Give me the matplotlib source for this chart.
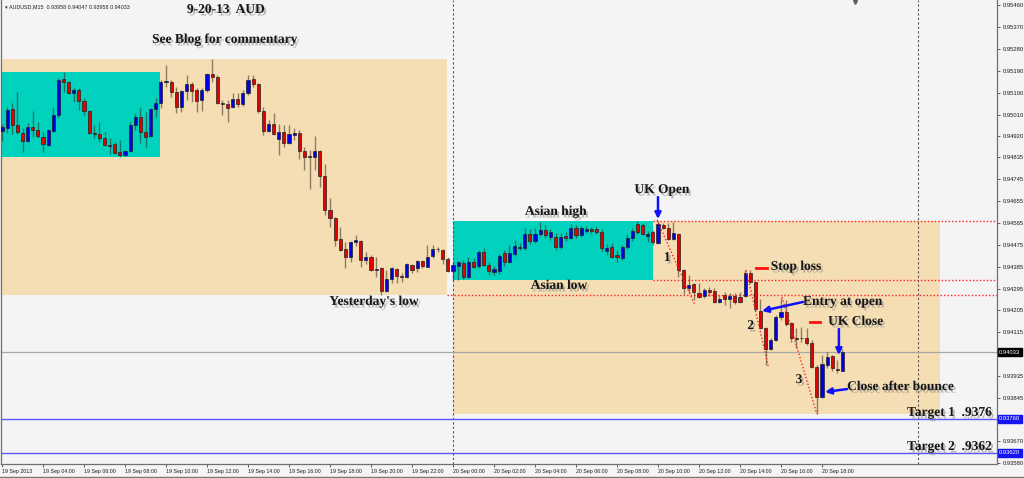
import numpy as np
import matplotlib
matplotlib.use('Agg')
import matplotlib.pyplot as plt
import matplotlib.patheffects as pe
import matplotlib.transforms as mtransforms
from matplotlib.patches import Rectangle

# AUDUSD M15, 19 Sep 2013 02:00 -> 20 Sep 2013 19:00 (one value per bar)
opens = [
    .94943, .94955, .95033, .94967, .94935, .94902, .94959, .94947, .94918, .94885,
    .94943, .95008, .95156, .95144, .95099, .95111, .95066, .95025, .94935, .94931,
    .94914, .94885, .94890, .94857, .94844, .94861, .94967, .95000, .94939, .94922,
    .95033, .95058, .95144, .95144, .95103, .95041, .95107, .95136, .95111, .95070,
    .95111, .95177, .95164, .95058, .95054, .95041, .95074, .95054, .95099, .95156,
    .95136, .95025, .94943, .94972, .94910, .94939, .94894, .94926, .94935, .94861,
    .94840, .94836, .94861, .94757, .94618, .94585, .94499, .94458, .94425, .94487,
    .94491, .94412, .94425, .94371, .94379, .94285, .94334, .94375, .94346, .94342,
    .94392, .94379, .94408, .94383, .94429, .94458, .94454, .94416, .94367, .94387,
    .94400, .94342, .94404, .94387, .94446, .94392, .94363, .94367, .94441, .94404,
    .94437, .94466, .94462, .94520, .94491, .94520, .94536, .94507, .94507, .94466,
    .94511, .94503, .94544, .94515, .94532, .94540, .94540, .94528, .94450, .94466,
    .94433, .94421, .94466, .94503, .94561, .94556, .94511, .94528, .94483, .94556,
    .94544, .94499, .94520, .94371, .94297, .94313, .94276, .94264, .94289, .94285,
    .94240, .94268, .94252, .94264, .94260, .94264, .94359, .94322, .94203, .94133,
    .94047, .94084, .94178, .94199, .94154, .94092, .94092, .94092, .94072, .93972,
    .93849, .93980, .94017, .93964, .93958,
]
highs = [
    .94972, .95041, .95058, .95103, .94955, .94976, .95025, .94980, .94939, .94951,
    .95041, .95160, .95185, .95148, .95119, .95119, .95078, .95029, .94967, .94980,
    .94939, .94914, .94898, .94906, .94865, .94980, .95017, .95041, .95021, .95037,
    .95078, .95152, .95213, .95152, .95123, .95111, .95172, .95144, .95119, .95119,
    .95181, .95238, .95172, .95070, .95070, .95099, .95099, .95111, .95172, .95172,
    .95140, .95041, .94988, .95017, .94972, .94967, .94967, .94955, .94947, .94877,
    .94865, .94922, .94865, .94807, .94667, .94589, .94548, .94487, .94491, .94515,
    .94495, .94446, .94433, .94425, .94383, .94371, .94383, .94379, .94359, .94400,
    .94396, .94412, .94412, .94474, .94474, .94466, .94458, .94425, .94404, .94408,
    .94412, .94425, .94421, .94454, .94462, .94404, .94387, .94437, .94454, .94474,
    .94495, .94483, .94544, .94540, .94544, .94569, .94556, .94540, .94524, .94524,
    .94528, .94561, .94556, .94552, .94552, .94548, .94552, .94540, .94478, .94483,
    .94454, .94474, .94520, .94544, .94573, .94565, .94532, .94536, .94573, .94565,
    .94565, .94569, .94524, .94375, .94350, .94318, .94318, .94297, .94301, .94297,
    .94268, .94281, .94276, .94276, .94281, .94371, .94371, .94326, .94252, .94137,
    .94092, .94186, .94256, .94248, .94158, .94133, .94137, .94133, .94084, .93980,
    .94022, .94034, .94022, .94001, .94047,
]
lows = [
    .94902, .94935, .94931, .94931, .94857, .94898, .94918, .94914, .94857, .94881,
    .94939, .94996, .95103, .95095, .95062, .95029, .95008, .94931, .94914, .94898,
    .94881, .94849, .94849, .94836, .94840, .94857, .94947, .94894, .94873, .94918,
    .95000, .95037, .95123, .95082, .95017, .95021, .95070, .95062, .95021, .95025,
    .95103, .95144, .95054, .95008, .94980, .95037, .95041, .95045, .95091, .95123,
    .95017, .94926, .94939, .94926, .94844, .94877, .94890, .94906, .94828, .94782,
    .94704, .94782, .94712, .94597, .94548, .94470, .94450, .94379, .94404, .94470,
    .94383, .94396, .94367, .94342, .94268, .94281, .94318, .94318, .94322, .94338,
    .94359, .94363, .94379, .94383, .94421, .94446, .94396, .94363, .94330, .94330,
    .94334, .94338, .94379, .94379, .94387, .94350, .94350, .94355, .94387, .94400,
    .94429, .94454, .94454, .94478, .94483, .94511, .94503, .94495, .94454, .94458,
    .94491, .94499, .94503, .94507, .94524, .94520, .94520, .94450, .94433, .94421,
    .94404, .94412, .94458, .94491, .94520, .94515, .94487, .94474, .94478, .94540,
    .94495, .94495, .94342, .94272, .94276, .94248, .94256, .94256, .94264, .94235,
    .94235, .94227, .94215, .94231, .94235, .94260, .94318, .94203, .94129, .93980,
    .94043, .94080, .94166, .94141, .94076, .94051, .94076, .94064, .93968, .93779,
    .93845, .93968, .93956, .93948, .93958,
]
closes = [
    .94959, .95029, .94967, .94939, .94902, .94959, .94947, .94922, .94890, .94947,
    .95008, .95152, .95144, .95099, .95111, .95066, .95025, .94935, .94931, .94914,
    .94885, .94881, .94853, .94844, .94861, .94967, .95000, .94939, .94918, .95033,
    .95058, .95144, .95148, .95103, .95041, .95107, .95136, .95107, .95066, .95111,
    .95177, .95164, .95058, .95054, .95037, .95074, .95054, .95099, .95152, .95136,
    .95025, .94943, .94972, .94931, .94939, .94894, .94931, .94935, .94861, .94836,
    .94836, .94861, .94757, .94618, .94585, .94495, .94454, .94425, .94487, .94495,
    .94412, .94425, .94371, .94375, .94285, .94334, .94379, .94346, .94342, .94396,
    .94371, .94408, .94387, .94425, .94458, .94456, .94416, .94367, .94392, .94404,
    .94342, .94404, .94383, .94446, .94392, .94367, .94375, .94429, .94404, .94441,
    .94470, .94462, .94520, .94491, .94520, .94536, .94515, .94528, .94466, .94507,
    .94503, .94544, .94515, .94544, .94540, .94532, .94528, .94462, .94462, .94425,
    .94425, .94466, .94503, .94532, .94528, .94520, .94520, .94487, .94561, .94544,
    .94499, .94524, .94371, .94297, .94309, .94281, .94260, .94289, .94281, .94240,
    .94252, .94252, .94264, .94240, .94240, .94359, .94322, .94211, .94133, .94047,
    .94084, .94178, .94199, .94150, .94092, .94088, .94090, .94072, .93972, .93849,
    .93985, .94013, .93968, .93960, .94033,
]

time_labels = ['19 Sep 2013', '19 Sep 04:00', '19 Sep 06:00', '19 Sep 08:00', '19 Sep 10:00',
               '19 Sep 12:00', '19 Sep 14:00', '19 Sep 16:00', '19 Sep 18:00', '19 Sep 20:00',
               '19 Sep 22:00', '20 Sep 00:00', '20 Sep 02:00', '20 Sep 04:00', '20 Sep 06:00',
               '20 Sep 08:00', '20 Sep 10:00', '20 Sep 12:00', '20 Sep 14:00', '20 Sep 16:00',
               '20 Sep 18:00']
price_labels = ['0.95460', '0.95370', '0.95280', '0.95190', '0.95100', '0.95010', '0.94920',
                '0.94835', '0.94745', '0.94655', '0.94565', '0.94475', '0.94385', '0.94295',
                '0.94205', '0.94115', '0.93935', '0.93845', '0.93670', '0.93580']
targets = [0.9376, 0.9362]
target_names = ['Target 1  .9376', 'Target 2  .9362']

# sessions (bar index ranges)
day1 = slice(0, 88)
asia1 = slice(0, 31)
day2 = slice(88, None)
asia2 = slice(88, 128)
UK_OPEN = 128

o = np.array(opens); h = np.array(highs); l = np.array(lows); c = np.array(closes)
x = np.arange(len(o))

BEIGE = '#F5DEB3'
CYAN = '#00D2BE'
BG = '#F4F4F4'

fig = plt.figure(figsize=(10.24, 4.78), dpi=100, facecolor=BG)
ax = fig.add_axes([1/1024, 14/478, 996/1024, 464/478])
ax.set_facecolor(BG)
ax.set_xlim(-0.2, 194.15)
ax.set_ylim(0.93574, 0.95481)

# session boxes
def box(x0, x1, sl, color):
    lo, hi = l[sl].min(), h[sl].max()
    ax.add_patch(Rectangle((x0, lo), x1 - x0, hi - lo, facecolor=color, edgecolor='none', zorder=0.5))

box(-0.2, 86.8, day1, BEIGE)
box(-0.2, 30.8, asia1, CYAN)
box(88.0, 183.0, day2, BEIGE)
box(88.0, 127.0, asia2, CYAN)

asian_high = h[asia2].max()
asian_low = l[asia2].min()
yday_low = l[day1].min()

# period separators
for xs in [88, 178.7]:
    ax.axvline(xs, color='#555555', lw=0.8, ls=(0, (2, 2)), zorder=1)

# levels
dot = (0, (1, 1.5))
ax.hlines([asian_high, asian_low], 127.0, 194.15, color='#FF2020', lw=1.0, ls=dot, zorder=2)
ax.hlines(yday_low, 86.8, 194.15, color='#FF2020', lw=1.0, ls=dot, zorder=2)
ax.axhline(c[-1], color='#A8A8A8', lw=0.9, zorder=1.5)
for t in targets:
    ax.axhline(t, color='#5A5AFF', lw=1.0, zorder=2)

# candles
up = c >= o
ax.vlines(x, l, h, color=(0.2, 0.17, 0.12, 0.55), lw=1.0, zorder=3)
ax.bar(x, c - o, bottom=o, width=0.62, color=np.where(up, '#0000E6', '#E60000'),
       edgecolor='#202020', linewidth=0.5, zorder=4)

# trend lines
for (x0, y0), (x1, y1) in [((127.8, 0.94577), (135.2, 0.94227)),
                           ((145.2, 0.94371), (149.5, 0.93977)),
                           ((152.2, 0.94260), (159.0, 0.93779))]:
    ax.plot([x0, x1], [y0, y1], color='#FF2020', lw=1.0, ls=dot, zorder=5)

# axes styling
ax.spines['top'].set_visible(False)
for s in ['left', 'right', 'bottom']:
    ax.spines[s].set_color('#707070')
    ax.spines[s].set_linewidth(0.9)
ax.yaxis.tick_right()
ax.set_yticks([float(p) for p in price_labels])
ax.set_yticklabels(price_labels, fontsize=4.2, family='Liberation Sans')
ax.tick_params(axis='y', direction='out', length=2.5, width=0.6, pad=1.5, colors='#444444')
ax.set_xticks(range(0, 161, 8))
ax.set_xticklabels(time_labels, fontsize=3.8, family='Liberation Sans', ha='left')
ax.tick_params(axis='x', direction='out', length=2.5, width=0.6, pad=1.2, colors='#444444')
for lab in ax.get_xticklabels() + ax.get_yticklabels():
    lab.set_color('#1a1a1a')

# highlighted price boxes on the scale
trans = mtransforms.blended_transform_factory(ax.transAxes, ax.transData)
ax.text(1.002, c[-1], f'{c[-1]:.5f}', transform=trans, fontsize=4.2, family='Liberation Sans',
        color='white', va='center', ha='left',
        bbox=dict(boxstyle='square,pad=0.25', facecolor='black', edgecolor='black'), clip_on=False)
for t in targets:
    ax.text(1.002, t, f'{t:.5f}', transform=trans, fontsize=4.2, family='Liberation Sans',
            color='white', va='center', ha='left',
            bbox=dict(boxstyle='square,pad=0.25', facecolor='#1515F0', edgecolor='#1515F0'), clip_on=False)

# header
ax.text(0.004, 0.985, '\u25be AUDUSD,M15  {:.5f} {:.5f} {:.5f} {:.5f}'.format(o[-1], h[-1], l[-1], c[-1]),
        transform=ax.transAxes, fontsize=3.9, family=['Liberation Sans', 'DejaVu Sans'],
        color='#222222', va='center', ha='left')
# chart shift marker
ax.plot([166.4], [0.95474], marker='v', ms=2.8, color='#606060', zorder=6, clip_on=False)

# annotations
shadow = [pe.withSimplePatchShadow(offset=(1.5, -1.8), shadow_rgbFace='#8a8a8a', alpha=0.55)]
tk = dict(family='Liberation Serif', weight='bold', fontsize=9.7, color='#151515',
          path_effects=shadow, zorder=8)
ax.text(43.7, 0.95440, '9-20-13  AUD', ha='center', va='center', **tk)
ax.text(43.5, 0.95317, 'See Blog for commentary', ha='center', va='center', **tk)
ax.text(72.6, 0.94240, "Yesterday's low", ha='center', va='center', **tk)
ax.text(108.1, 0.94610, 'Asian high', ha='center', va='center', **tk)
ax.text(108.7, 0.94306, 'Asian low', ha='center', va='center', **tk)
ax.text(128.8, 0.94700, 'UK Open', ha='center', va='center', **tk)
ax.text(129.8, 0.94421, '1', ha='center', va='center', **tk)
ax.text(146.1, 0.94141, '2', ha='center', va='center', **tk)
ax.text(155.5, 0.93919, '3', ha='center', va='center', **tk)
ax.text(150.0, 0.94384, 'Stop loss', ha='left', va='center', **tk)
ax.text(156.3, 0.94240, 'Entry at open', ha='left', va='center', **tk)
ax.text(161.2, 0.94158, 'UK Close', ha='left', va='center', **tk)
ax.text(164.9, 0.93890, 'Close after bounce', ha='left', va='center', **tk)
for t, name, yt in zip(targets, target_names, [0.93784, 0.93644]):
    ax.text(176.6, yt, name, ha='left', va='center', **tk)

ax.plot([147.1, 149.3], [0.94379, 0.94379], color='#FF1010', lw=2, zorder=7)
ax.plot([157.7, 159.6], [0.94158, 0.94158], color='#FF1010', lw=2, zorder=7)

arrow = dict(arrowstyle='-|>', color='#1010FF', lw=1.8, mutation_scale=9, shrinkA=0, shrinkB=0)
for tail, head in [((UK_OPEN, 0.94671), (UK_OPEN, 0.94581)),
                   ((156.3, 0.94240), (148.3, 0.94203)),
                   ((163.3, 0.94129), (163.3, 0.94022)),
                   ((164.9, 0.93882), (160.6, 0.93870))]:
    ax.annotate('', xy=head, xytext=tail, arrowprops=arrow, zorder=9)

# window border at the bottom
fig.add_artist(plt.Line2D([0, 1], [1.5/478, 1.5/478], color='#777777', lw=1.0))

fig.savefig('out.png', dpi=100, facecolor=BG)
